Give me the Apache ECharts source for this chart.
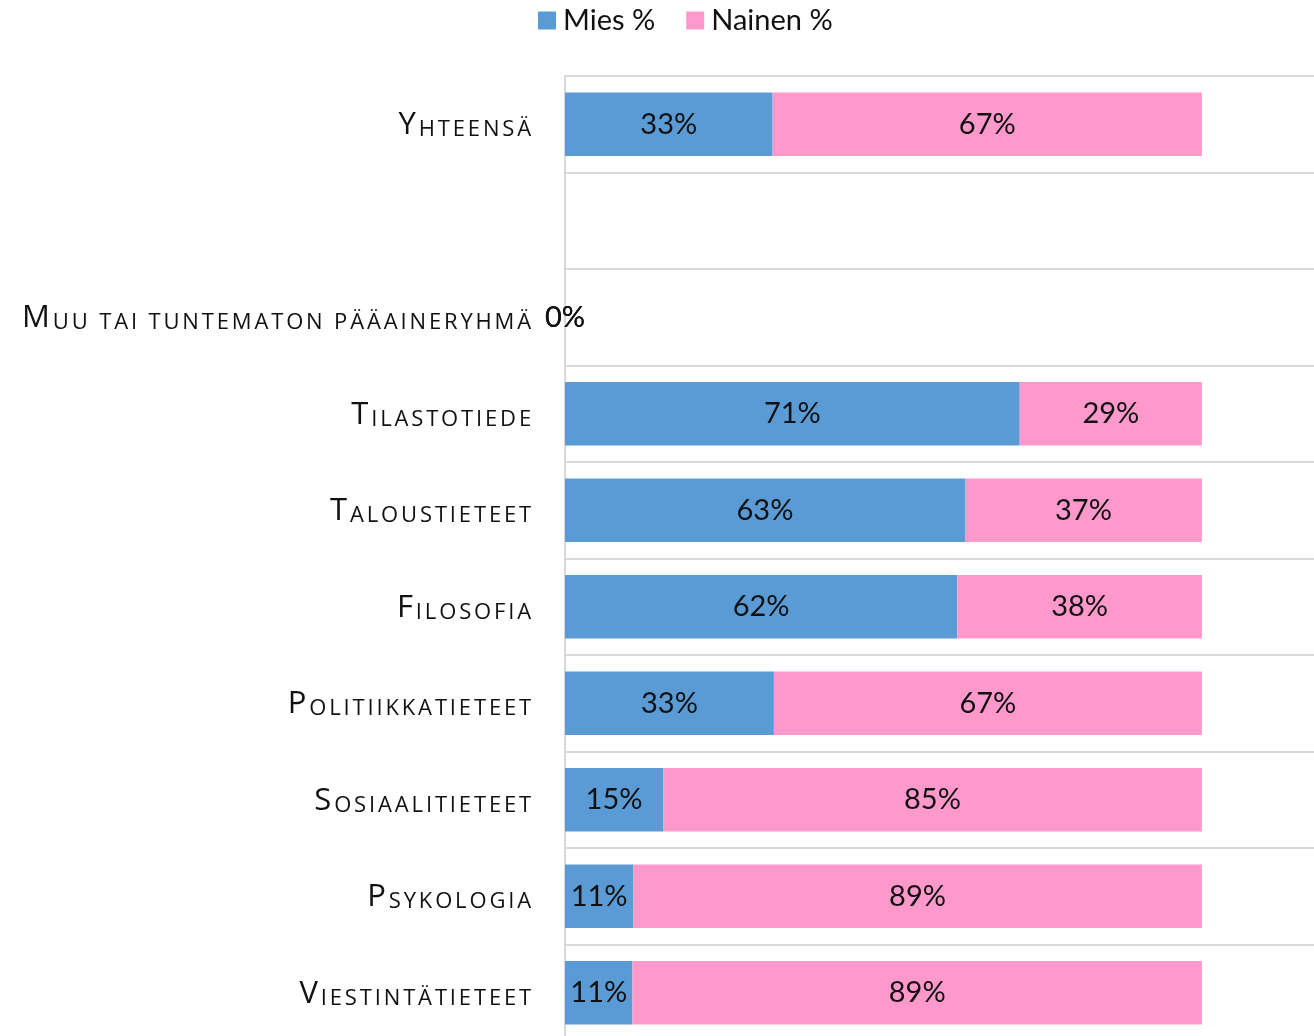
<!DOCTYPE html>
<html>
<head>
<meta charset="utf-8">
<script src="https://cdn.jsdelivr.net/npm/echarts@6/dist/echarts.min.js"></script>
<style>html,body{margin:0;padding:0;background:#fff;overflow:hidden;}#c{width:1314px;height:1041px;}</style>
</head>
<body>
<div id="c"></div>
<script>
const categories = ['Yhteensä', '', 'Muu tai tuntematon pääaineryhmä', 'Tilastotiede', 'Taloustieteet', 'Filosofia', 'Politiikkatieteet', 'Sosiaalitieteet', 'Psykologia', 'Viestintätieteet'];
const miesValues = [32.6, null, 0, 71.4, 62.8, 61.6, 32.8, 15.4, 10.7, 10.6];
const nainenValues = [67.4, null, 0, 28.6, 37.2, 38.4, 67.2, 84.6, 89.3, 89.4];
const seriesNames = ['Mies %', 'Nainen %'];

// letter-spaced small caps for the category labels (applies only to the "Open Sans" label font)
(function () {
  const proto = CanvasRenderingContext2D.prototype;
  const LS = '2.85px';
  function applyLS(ctx) {
    if ('letterSpacing' in ctx) ctx.letterSpacing = (ctx.font.indexOf('Open Sans') >= 0) ? LS : '0px';
  }
  ['fillText', 'strokeText', 'measureText'].forEach(function (fn) {
    const orig = proto[fn];
    proto[fn] = function () { applyLS(this); return orig.apply(this, arguments); };
  });
})();

const chart = echarts.init(document.getElementById('c'), null, {renderer: 'canvas'});
const FONT = 'Lato, sans-serif';
const CAT_FONT = '"Open Sans", sans-serif';
const labelCfg = {
  show: true,
  position: 'inside',
  fontFamily: FONT,
  fontSize: 29,
  color: '#111',
  formatter: p => (p.value === null || p.value === undefined) ? '' : Math.round(p.value) + '%'
};
chart.setOption({
  animation: false,
  legend: {
    top: 1,
    left: 533,
    itemWidth: 18,
    itemHeight: 18,
    itemGap: 31,
    icon: 'rect',
    textStyle: {fontFamily: FONT, fontSize: 29, color: '#111', padding: [0, 0, 0, 2]},
    data: seriesNames
  },
  grid: {left: 565, right: 0, top: 76, bottom: 0},
  xAxis: {
    type: 'value', min: 0, max: 117.6, show: false
  },
  yAxis: {
    type: 'category',
    inverse: true,
    data: categories,
    axisLine: {show: true, lineStyle: {color: '#d9d9d9', width: 2}},
    axisTick: {show: false},
    splitLine: {show: true, interval: 0, lineStyle: {color: '#d9d9d9', width: 2}},
    axisLabel: {
      margin: 31,
      interval: 0,
      color: '#111',
      formatter: v => v ? '{a|' + v[0].toUpperCase() + '}{b|' + v.slice(1).toUpperCase() + '}' : '',
      rich: {
        a: {fontFamily: CAT_FONT, fontSize: 31, color: '#111', verticalAlign: 'bottom', padding: [0, 0, -2, 0]},
        b: {fontFamily: CAT_FONT, fontSize: 22, color: '#111', verticalAlign: 'bottom', padding: [0, 0, -2, 0]}
      }
    }
  },
  series: [
    {name: seriesNames[0], type: 'bar', stack: 'a', barCategoryGap: '34%', data: miesValues,
     itemStyle: {color: '#5B9BD5'}, label: labelCfg},
    {name: seriesNames[1], type: 'bar', stack: 'a', barCategoryGap: '34%', data: nainenValues,
     itemStyle: {color: '#FF99CC'}, label: labelCfg}
  ]
});
</script>
</body>
</html>
